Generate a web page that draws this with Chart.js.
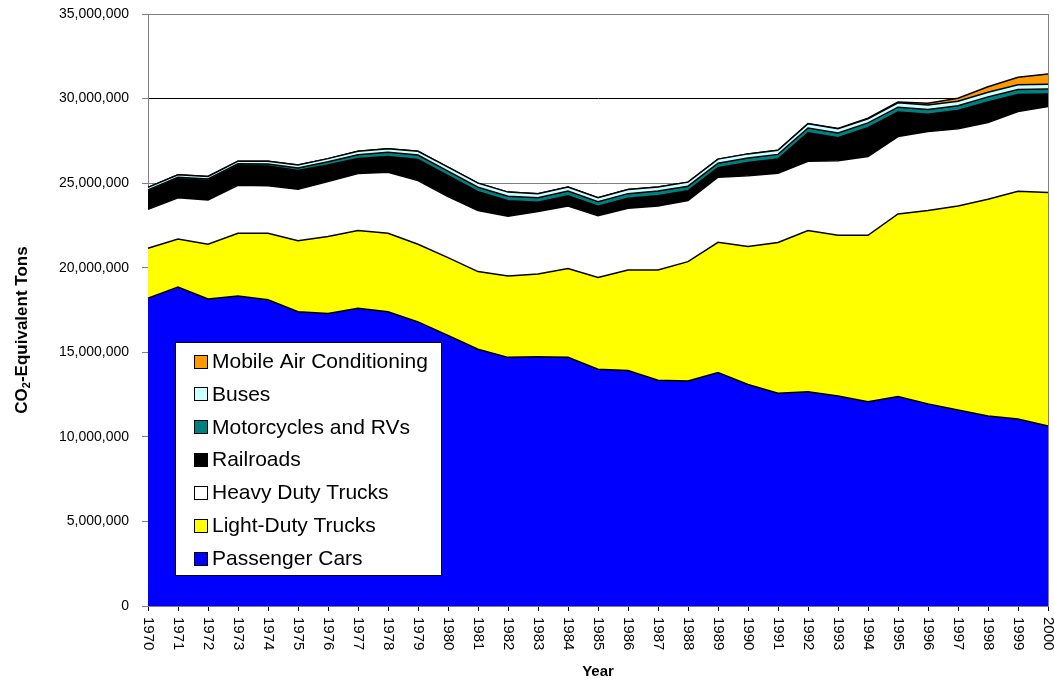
<!DOCTYPE html>
<html>
<head>
<meta charset="UTF-8">
<style>
  html, body { margin: 0; padding: 0; background: #fff; }
  #wrap { width: 1054px; height: 683px; }
</style>
</head>
<body>
<div id="wrap">
  <canvas id="myChart" width="1054" height="683"></canvas>
</div>

<script src="https://cdn.jsdelivr.net/npm/chart.js"></script>

<script>
    // values in million CO2-equivalent tons
    const years = [];
    for (let y = 1970; y <= 2000; y++) years.push(String(y));

    const passengerCars = [18.2, 18.85, 18.15, 18.33, 18.1, 17.4, 17.3, 17.6, 17.4, 16.8, 16.0, 15.18, 14.7, 14.74, 14.7, 14.0,
        13.92, 13.35, 13.3, 13.8, 13.1, 12.58, 12.67, 12.42, 12.08, 12.38, 11.95, 11.59, 11.24, 11.06, 10.64];
    const lightTrucks = [2.95, 2.85, 3.24, 3.71, 3.94, 4.2, 4.54, 4.6, 4.64, 4.59, 4.6, 4.59, 4.81, 4.89, 5.25, 5.42,
        5.95, 6.52, 7.06, 7.7, 8.15, 8.91, 9.53, 9.5, 9.84, 10.8, 11.43, 12.06, 12.81, 13.46, 13.8];
    const heavyTrucks = [2.3, 2.43, 2.62, 2.83, 2.8, 3.04, 3.25, 3.37, 3.6, 3.76, 3.6, 3.61, 3.54, 3.69, 3.7, 3.66,
        3.65, 3.78, 3.61, 3.85, 4.18, 4.1, 4.09, 4.4, 4.65, 4.57, 4.67, 4.56, 4.53, 4.71, 5.09];
    const railroads = [1.07, 1.13, 1.14, 1.17, 1.17, 1.11, 0.99, 0.89, 0.93, 1.25, 1.24, 1.11, 0.91, 0.55, 0.61, 0.55,
        0.59, 0.61, 0.58, 0.56, 0.79, 0.84, 1.69, 1.36, 1.71, 1.45, 1.02, 1.08, 1.22, 1.01, 0.74];
    const motorcycles = [0.08, 0.09, 0.1, 0.1, 0.12, 0.15, 0.18, 0.22, 0.25, 0.26, 0.27, 0.27, 0.27, 0.27, 0.27, 0.27,
        0.27, 0.27, 0.27, 0.27, 0.27, 0.27, 0.28, 0.28, 0.28, 0.29, 0.29, 0.29, 0.3, 0.3, 0.3];
    const buses = [0.15, 0.15, 0.15, 0.16, 0.17, 0.18, 0.19, 0.2, 0.21, 0.22, 0.24, 0.24, 0.24, 0.24, 0.24, 0.24,
        0.24, 0.24, 0.24, 0.24, 0.24, 0.24, 0.25, 0.25, 0.25, 0.26, 0.26, 0.26, 0.27, 0.27, 0.28];
    const airConditioning = [0, 0, 0, 0, 0, 0, 0, 0, 0, 0, 0, 0, 0, 0, 0, 0,
        0, 0, 0, 0, 0, 0, 0.01, 0.02, 0.03, 0.05, 0.1, 0.18, 0.33, 0.45, 0.6];

    const FONT = "'Liberation Sans', Arial, sans-serif";
    const toTons = arr => arr.map(v => Math.round(v * 1e6));

    function series(label, data, color, first) {
        return {
            label: label,
            data: toTons(data),
            backgroundColor: color,
            borderColor: '#000000',
            borderWidth: 1.5,
            fill: first ? 'origin' : '-1',
            pointRadius: 0,
            tension: 0
        };
    }

    // plot frame (gray) under the areas
    const framePlugin = {
        id: 'frame',
        beforeDatasetsDraw(chart) {
            const a = chart.chartArea;
            const ctx = chart.ctx;
            ctx.save();
            ctx.strokeStyle = '#808080';
            ctx.lineWidth = 1;
            ctx.strokeRect(Math.round(a.left) + 0.5, Math.round(a.top) + 0.5,
                Math.round(a.right - a.left), Math.round(a.bottom - a.top));
            ctx.restore();
        }
    };

    // rotated year labels, axis titles and the boxed legend
    const extrasPlugin = {
        id: 'extras',
        afterDraw(chart) {
            const ctx = chart.ctx;
            const xs = chart.scales.x;
            const a = chart.chartArea;
            ctx.save();

            // year labels, reading top to bottom
            ctx.fillStyle = '#000';
            ctx.font = '15px ' + FONT;
            ctx.textAlign = 'left';
            ctx.textBaseline = 'middle';
            chart.data.labels.forEach((lab, i) => {
                const x = xs.getPixelForValue(i);
                ctx.save();
                ctx.translate(x, a.bottom + 11);
                ctx.rotate(Math.PI / 2);
                ctx.fillText(lab, 0, 0);
                ctx.restore();
            });

            // x title
            ctx.font = 'bold 15px ' + FONT;
            ctx.textAlign = 'center';
            ctx.textBaseline = 'middle';
            ctx.fillText('Year', (a.left + a.right) / 2, 672);

            // y title with subscript
            ctx.save();
            ctx.translate(22, 330);
            ctx.rotate(-Math.PI / 2);
            ctx.textBaseline = 'middle';
            ctx.textAlign = 'left';
            const big = 'bold 17px ' + FONT;
            const small = 'bold 11px ' + FONT;
            ctx.font = big;
            const w1 = ctx.measureText('CO').width;
            const w3 = ctx.measureText('-Equivalent Tons').width;
            ctx.font = small;
            const w2 = ctx.measureText('2').width;
            let x0 = -(w1 + w2 + w3) / 2;
            ctx.font = big;
            ctx.fillText('CO', x0, 0);
            ctx.font = small;
            ctx.fillText('2', x0 + w1, 5);
            ctx.font = big;
            ctx.fillText('-Equivalent Tons', x0 + w1 + w2, 0);
            ctx.restore();

            // legend box
            ctx.fillStyle = '#fff';
            ctx.fillRect(175, 342, 266, 233);
            ctx.strokeStyle = '#000';
            ctx.lineWidth = 1;
            ctx.strokeRect(175.5, 342.5, 266, 233);
            ctx.font = '21px ' + FONT;
            ctx.textAlign = 'left';
            ctx.textBaseline = 'middle';
            const ds = chart.data.datasets.slice().reverse();
            ds.forEach((d, i) => {
                const cy = 361 + i * 32.9;
                ctx.fillStyle = d.backgroundColor;
                ctx.fillRect(194, Math.round(cy - 6.5), 13, 13);
                ctx.strokeStyle = '#000';
                ctx.strokeRect(194.5, Math.round(cy - 6.5) + 0.5, 13, 13);
                ctx.fillStyle = '#000';
                ctx.fillText(d.label, 212, cy + 1);
            });
            ctx.restore();
        }
    };

    new Chart(document.getElementById('myChart'), {
        type: 'line',
        data: {
            labels: years,
            datasets: [
                series('Passenger Cars', passengerCars, '#0000FF', true),
                series('Light-Duty Trucks', lightTrucks, '#FFFF00'),
                series('Heavy Duty Trucks', heavyTrucks, '#FFFFFF'),
                series('Railroads', railroads, '#000000'),
                series('Motorcycles and RVs', motorcycles, '#008080'),
                series('Buses', buses, '#CCFFFF'),
                series('Mobile Air Conditioning', airConditioning, '#FF9900')
            ]
        },
        options: {
            responsive: false,
            animation: false,
            layout: { padding: { top: 14, right: 6, left: 0, bottom: 0 } },
            plugins: {
                legend: { display: false },
                tooltip: { enabled: false },
                title: { display: false }
            },
            scales: {
                x: {
                    offset: false,
                    ticks: { display: false },
                    grid: {
                        drawOnChartArea: false,
                        drawTicks: true,
                        tickLength: 5,
                        tickColor: '#000'
                    },
                    border: { color: '#000', width: 1 },
                    afterFit: s => { s.height = 77; s.paddingLeft = 0; s.paddingRight = 0; }
                },
                y: {
                    stacked: true,
                    min: 0,
                    max: 35000000,
                    ticks: {
                        stepSize: 5000000,
                        color: '#000',
                        padding: 13,
                        font: { family: FONT, size: 14 },
                        callback: v => String(v).replace(/\B(?=(\d{3})+(?!\d))/g, ',')
                    },
                    grid: {
                        color: c => (c.tick && c.tick.value === 30000000) ? '#000000' : '#808080',
                        tickColor: '#808080',
                        tickLength: 6,
                        drawTicks: true
                    },
                    border: { color: '#808080', width: 1 },
                    afterFit: s => { s.width = 148; s.paddingTop = 0; s.paddingBottom = 0; }
                }
            }
        },
        plugins: [framePlugin, extrasPlugin]
    });
</script>
</body>
</html>
